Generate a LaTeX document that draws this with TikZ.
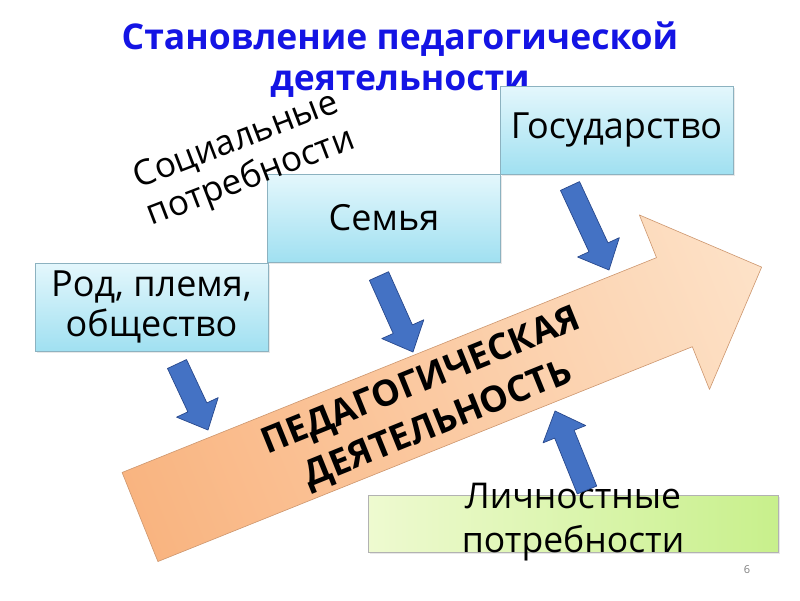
\documentclass[tikz,border=0pt]{standalone}
\usepackage{fontspec}
\setmainfont{Open Sans}
\usetikzlibrary{calc,shadows}
\definecolor{titleblue}{RGB}{20,20,228}
\definecolor{boxtop}{RGB}{228,247,252}
\definecolor{boxbot}{RGB}{160,224,241}
\definecolor{boxline}{RGB}{140,178,192}
\definecolor{greenL}{RGB}{238,250,208}
\definecolor{greenR}{RGB}{200,240,140}
\definecolor{orTail}{RGB}{249,180,128}
\definecolor{orTip}{RGB}{253,226,200}
\definecolor{orLine}{RGB}{205,150,110}
\definecolor{arrFill}{RGB}{68,114,196}
\definecolor{arrLine}{RGB}{40,72,140}
\tikzset{
  cbox/.style={draw=boxline, line width=0.8pt, top color=boxtop, bottom color=boxbot,
    minimum width=233pt, minimum height=88pt, inner sep=0pt, align=center,
    font=\fontsize{36}{40}\selectfont,
    drop shadow={opacity=0.18, shadow xshift=1.5pt, shadow yshift=-2pt}},
  gbox/.style={draw=gray!60, line width=0.8pt, left color=greenL, right color=greenR,
    minimum width=410pt, minimum height=57pt, inner sep=0pt,
    drop shadow={opacity=0.18, shadow xshift=1.5pt, shadow yshift=-2pt}},
  barrow/.style={fill=arrFill, draw=arrLine, line width=0.7pt, line join=round},
  bigtext/.style={font=\fontsize{36}{46}\selectfont\bfseries, align=center},
}
\newcommand\bluearrow[2]{%
  \path ($(#2)!25pt!(#1)$) coordinate (hb);
  \draw[barrow] ($(#1)!10.5pt!90:(#2)$) -- ($(hb)!10.5pt!90:(#2)$) -- ($(hb)!23pt!90:(#2)$)
    -- (#2) -- ($(hb)!23pt!-90:(#2)$) -- ($(hb)!10.5pt!-90:(#2)$) -- ($(#1)!10.5pt!-90:(#2)$) -- cycle;}
\begin{document}
\begin{tikzpicture}[x=1pt,y=-1pt]
\useasboundingbox[fill=white] (0,0) rectangle (800,600);

% title
\node[text=titleblue, font=\fontsize{35.5}{41}\selectfont\bfseries, align=center] (title) at (400,60)
  {Становление педагогической\\деятельности};

% big arrow
\begin{scope}[transform canvas={shift={(140,517)}, rotate=21.9}]
  \draw[draw=orLine, line width=0.6pt, left color=orTail, right color=orTip, line join=round]
    (0,-48) -- (576,-48) -- (576,-94) -- (670,0) -- (576,94) -- (576,48) -- (0,48) -- cycle;
\end{scope}
\node[bigtext, rotate=22] (ped) at (430,404) {ПЕДАГОГИЧЕСКАЯ\\ДЕЯТЕЛЬНОСТЬ};

% boxes
\node[cbox] (rod) at (151.5,307) {Род, племя,\\общество};
\node[cbox] (sem) at (384,218) {Семья};
\node[cbox] (gos) at (616.5,130) {Государство};
\node[gbox] (lich) at (573,523.5) {};
\node[font=\fontsize{35.5}{44}\selectfont, align=center] (lichtext) at (573,522) {Личностные\\потребности};

% social needs
\node[font=\fontsize{35}{41}\selectfont, rotate=21] (soc1) at (236,141) {Социальные};
\node[font=\fontsize{35}{41}\selectfont, rotate=21] (soc2) at (251,178) {потребности};

% blue arrows
\coordinate (a1s) at (177,364); \coordinate (a1e) at (208,430);
\coordinate (a2s) at (379,276); \coordinate (a2e) at (413,352);
\coordinate (a3s) at (570,186); \coordinate (a3e) at (609,270);
\coordinate (a4s) at (587,490); \coordinate (a4e) at (555,411);
\bluearrow{a1s}{a1e}
\bluearrow{a2s}{a2e}
\bluearrow{a3s}{a3e}
\bluearrow{a4s}{a4e}

% page number
\node[text=gray, font=\fontsize{11}{13}\selectfont] (pg) at (747,570) {6};
\end{tikzpicture}
\end{document}
